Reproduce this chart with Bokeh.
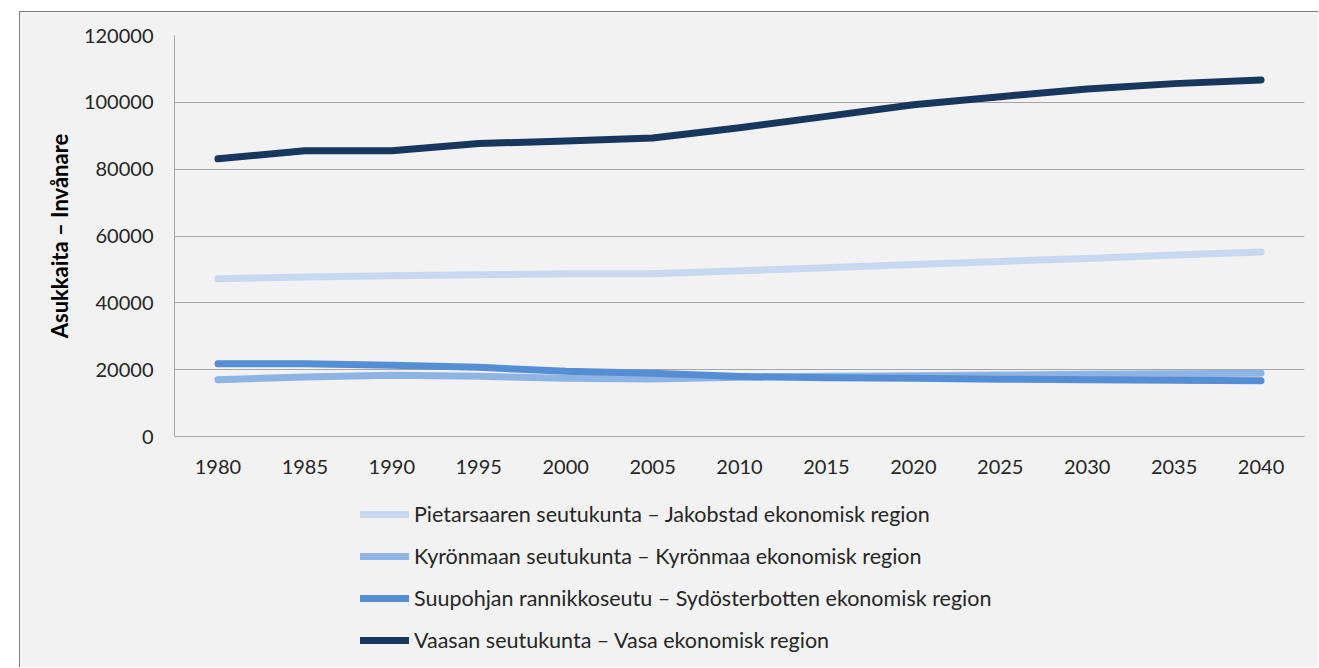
from bokeh.plotting import figure
from bokeh.layouts import column
from bokeh.models import FactorRange, Range1d, FixedTicker, NumeralTickFormatter, Legend, LegendItem
from bokeh.embed import file_html
from bokeh.resources import INLINE

years = ["1980", "1985", "1990", "1995", "2000", "2005", "2010",
         "2015", "2020", "2025", "2030", "2035", "2040"]

pietarsaari = [47200, 47700, 48100, 48400, 48700, 48700, 49600,
               50500, 51500, 52400, 53300, 54300, 55200]
kyronmaa = [17000, 17800, 18300, 18000, 17400, 17200, 17700,
            18000, 18200, 18400, 18600, 18800, 18900]
suupohja = [21800, 21800, 21300, 20700, 19500, 18900, 17950,
            17550, 17400, 17150, 17000, 16800, 16700]
vaasa = [83100, 85500, 85500, 87700, 88400, 89300, 92400,
         95800, 99300, 101700, 104000, 105600, 106700]

series_names = [
    "Pietarsaaren seutukunta – Jakobstad ekonomisk region",
    "Kyrönmaan seutukunta – Kyrönmaa ekonomisk region",
    "Suupohjan rannikkoseutu – Sydösterbotten ekonomisk region",
    "Vaasan seutukunta – Vasa ekonomisk region",
]
series_values = [pietarsaari, kyronmaa, suupohja, vaasa]
series_colors = ["#C6D9F1", "#8EB4E3", "#558ED5", "#17375E"]

y_ticks = [0, 20000, 40000, 60000, 80000, 100000, 120000]

FONT = "Lato"
TXT = "#262626"
BG = "#F2F2F2"

p = figure(
    x_range=FactorRange(*years, range_padding=0),
    y_range=Range1d(0, 120000),
    width=1298, height=478,
    output_backend="svg", toolbar_location=None,
    min_border_left=154, min_border_right=14,
    min_border_top=23, min_border_bottom=54,
)
p.background_fill_color = BG
p.border_fill_color = BG
p.outline_line_color = None

p.xgrid.grid_line_color = None
p.ygrid.grid_line_color = "#A6A6A6"
p.ygrid.grid_line_width = 1
p.yaxis.ticker = FixedTicker(ticks=y_ticks)
p.yaxis.formatter = NumeralTickFormatter(format="0")

for ax in (p.xaxis[0], p.yaxis[0]):
    ax.axis_line_color = "#A6A6A6"
    ax.axis_line_width = 1
    ax.major_tick_line_color = None
    ax.minor_tick_line_color = None
    ax.major_tick_out = 0
    ax.major_tick_in = 0
    ax.major_label_text_font = FONT
    ax.major_label_text_font_size = "20px"
    ax.major_label_text_color = TXT

p.yaxis.major_label_standoff = 21
p.xaxis.major_label_standoff = 23
p.yaxis.axis_label = "Asukkaita – Invånare"
p.yaxis.axis_label_text_font = FONT
p.yaxis.axis_label_text_font_size = "22px"
p.yaxis.axis_label_text_font_style = "bold"
p.yaxis.axis_label_text_color = "#000000"
p.yaxis.axis_label_standoff = 8

for vals, col in zip(series_values, series_colors):
    p.line(x=years, y=vals, line_width=7, line_color=col,
           line_cap="round", line_join="round")

# legend panel below the chart (same series, drawn outside its visible range)
pl = figure(
    x_range=FactorRange(*years, range_padding=0),
    y_range=Range1d(1e6, 2e6),
    width=1298, height=177,
    output_backend="svg", toolbar_location=None,
    x_axis_location=None, y_axis_location=None,
    min_border_left=0, min_border_right=0, min_border_top=0, min_border_bottom=0,
)
pl.background_fill_color = BG
pl.border_fill_color = BG
pl.outline_line_color = None
pl.grid.grid_line_color = None

items = []
for name, vals, col in zip(series_names, series_values, series_colors):
    r = pl.line(x=years, y=vals, line_width=7, line_color=col,
                line_cap="round", line_join="round")
    items.append(LegendItem(label=name, renderers=[r]))

legend = Legend(items=items, location=(186, 14), orientation="vertical")
legend.background_fill_alpha = 0
legend.border_line_color = None
legend.padding = 0
legend.margin = 0
legend.spacing = 16
legend.glyph_width = 49
legend.glyph_height = 20
legend.label_height = 20
legend.label_standoff = 5
legend.label_text_font = FONT
legend.label_text_font_size = "21.5px"
legend.label_text_color = TXT
pl.add_layout(legend, "center")

layout = column(p, pl, spacing=0)
layout.styles = {"margin-left": "19px", "margin-top": "11px",
                 "background-color": BG,
                 "border-left": "1px solid #7f7f7f", "border-top": "1px solid #7f7f7f"}

open("out.html", "w").write(file_html(layout, INLINE))
